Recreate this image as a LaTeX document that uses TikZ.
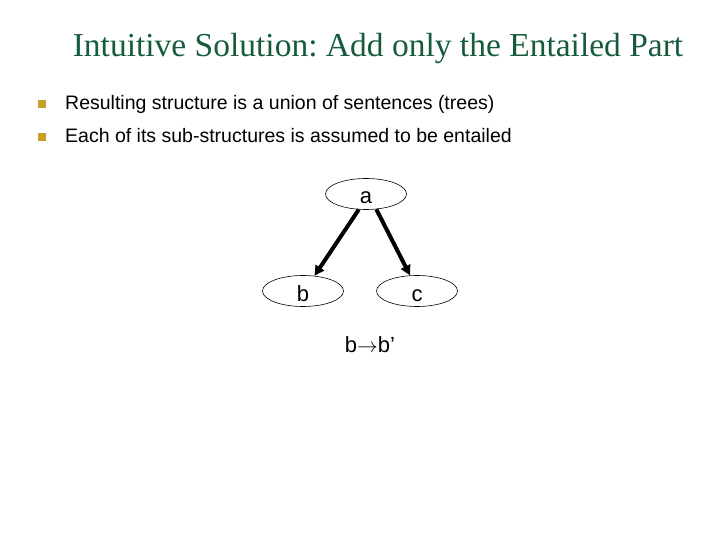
\documentclass[tikz,border=0pt]{standalone}
\usepackage{fontspec}
\setmainfont{Liberation Serif}
\setsansfont{Liberation Sans}
\usetikzlibrary{shapes.geometric,arrows.meta}
\definecolor{titlegreen}{RGB}{22,92,60}
\definecolor{bulletgold}{RGB}{200,160,40}
\tikzset{
  oval/.style={ellipse,draw=black,line width=0.6bp,fill=white,minimum width=81bp,minimum height=31bp,inner sep=0pt,text height=20bp,text depth=0pt,font=\sffamily\fontsize{22bp}{26bp}\selectfont},
  edgearrow/.style={line width=4bp,-{Triangle[length=10bp,width=10bp]}},
  bullet/.style={fill=bulletgold,minimum size=7.5bp,inner sep=0pt},
  bodytext/.style={anchor=base west,inner sep=0pt,font=\sffamily\fontsize{19.5bp}{23bp}\selectfont},
}
\frenchspacing
\begin{document}
\begin{tikzpicture}[x=1bp,y=-1bp]
\useasboundingbox (0,0) rectangle (720,540);
\node[anchor=base,inner sep=0pt,text=titlegreen,font=\fontsize{33.5bp}{40bp}\selectfont] (title) at (378,57) {Intuitive Solution: Add only the Entailed Part};
\node[bullet] (b1) at (42,104) {};
\node[bullet] (b2) at (42,137) {};
\node[bodytext] (t1) at (65,110) {Resulting structure is a union of sentences (trees)};
\node[bodytext] (t2) at (65,143) {Each of its sub-structures is assumed to be entailed};
\node[oval] (a) at (366,194) {a};
\node[oval] (b) at (303,291) {b};
\node[oval] (c) at (417,291) {c};
\draw[edgearrow] (a.245) -- (b.53);
\draw[edgearrow] (a.304) -- (c.114);
\node[anchor=base,inner sep=0pt,font=\sffamily\fontsize{22bp}{26bp}\selectfont] (bb) at (370,352) {b\(\rightarrow\)b’};
\end{tikzpicture}
\end{document}
